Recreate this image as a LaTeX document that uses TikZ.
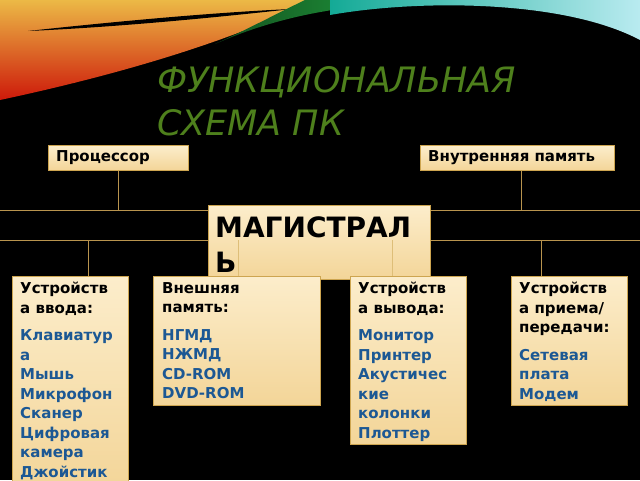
\documentclass[tikz,border=0pt]{standalone}
\usepackage{fontspec}
\setmainfont{DejaVu Sans}
\usetikzlibrary{calc}
\definecolor{boxtop}{RGB}{252,237,203}
\definecolor{boxbot}{RGB}{243,213,152}
\definecolor{boxline}{RGB}{205,165,80}
\definecolor{connc}{RGB}{185,148,78}
\definecolor{innerc}{RGB}{222,190,120}
\definecolor{itemblue}{RGB}{28,88,148}
\definecolor{titlegreen}{RGB}{78,128,28}
\definecolor{swred}{RGB}{205,25,10}
\definecolor{sworange}{RGB}{232,120,25}
\definecolor{swyellow}{RGB}{236,185,70}
\definecolor{swgreen}{RGB}{30,150,60}
\definecolor{swdkgreen}{RGB}{20,80,30}
\definecolor{swcyan}{RGB}{40,215,225}
\definecolor{swteal}{RGB}{20,170,150}
\definecolor{swpale}{RGB}{185,235,240}
\newcommand{\itm}[1]{\textcolor{itemblue}{#1}}
\begin{document}
\begin{tikzpicture}[x=1pt,y=-1pt,
  boxshape/.style={draw=boxline, line width=1pt, top color=boxtop, bottom color=boxbot,
    anchor=north west, inner sep=0pt},
  boxtext/.style={anchor=north west, inner sep=0pt, align=left,
    font=\fontsize{15}{19.5}\selectfont\bfseries},
  conn/.style={draw=connc, line width=0.8pt},
  innerconn/.style={draw=innerc, line width=0.8pt}]
% background
\fill[black] (0,0) rectangle (640,480);
\useasboundingbox (0,0) rectangle (640,480);
% swoosh: red / orange / yellow
\shade[top color=swyellow, middle color=sworange, bottom color=swred]
  (0,0) -- (315,0) .. controls (250,32) and (150,68) .. (0,100) -- cycle;
\fill[black] (28,31) .. controls (120,21) and (220,12) .. (292,9)
  .. controls (220,17) and (120,27) .. (28,31) -- cycle;
% green swoosh
\shade[left color=swdkgreen, right color=swgreen]
  (215,44) .. controls (265,22) and (320,8) .. (390,4) -- (390,0) -- (305,0)
  .. controls (280,12) and (250,28) .. (215,44) -- cycle;
% cyan swoosh
\shade[left color=swteal, middle color=swcyan, right color=swpale]
  (330,15) .. controls (420,-1) and (565,0) .. (640,40) -- (640,0) -- (330,0) -- cycle;
% title
\node[anchor=north west, inner sep=0pt, align=left, text=titlegreen,
  font=\fontsize{35}{43}\selectfont\itshape] (title) at (157,66)
  {ФУНКЦИОНАЛЬНАЯ\\СХЕМА ПК};
% bus lines
\coordinate (l1w) at (0,210);   \coordinate (l1e) at (640,210);
\coordinate (l2w) at (0,240);   \coordinate (l2e) at (640,240);
\draw[conn] (l1w) -- (l1e);
\draw[conn] (l2w) -- (l2e);
% top boxes
\node[boxshape, minimum width=140pt, minimum height=25pt] (proc) at (48,145) {};
\node[boxtext, anchor=west] (proct) at ($(proc.west)+(8,0)$) {Процессор};
\node[boxshape, minimum width=194pt, minimum height=25pt] (mem) at (420,145) {};
\node[boxtext, anchor=west] (memt) at ($(mem.west)+(8,0)$) {Внутренняя память};
\coordinate (mx) at (521,210);
\draw[conn] (proc.south) -- (proc.south |- l1w);
\draw[conn] (mx) -- (mx |- mem.south);
% bus box
\node[boxshape, minimum width=222pt, minimum height=74pt] (bus) at (208,205) {};
\node[anchor=north west, inner sep=0pt, align=left,
  font=\fontsize{28}{35}\selectfont\bfseries] (bust) at ($(bus.north west)+(7,12)$)
  {МАГИСТРАЛ\\Ь};
% drops from bus
\coordinate (b1) at (88,240);
\coordinate (b2) at (238,240);
\coordinate (b3) at (392,240);
\coordinate (b4) at (541,240);
% bottom boxes geometry
\path (12,276) coordinate (inpnw) (153,276) coordinate (extnw)
      (350,276) coordinate (outnw) (511,276) coordinate (netnw);
\draw[conn] (b1) -- (b1 |- inpnw);
\draw[innerconn] (b2) -- (b2 |- extnw);
\draw[innerconn] (b3) -- (b3 |- outnw);
\draw[conn] (b4) -- (b4 |- netnw);
\node[boxshape, minimum width=116pt, minimum height=214pt] (inp) at (inpnw) {};
\node[boxshape, minimum width=167pt, minimum height=129pt] (ext) at (extnw) {};
\node[boxshape, minimum width=116pt, minimum height=168pt] (out) at (outnw) {};
\node[boxshape, minimum width=116pt, minimum height=129pt] (net) at (netnw) {};
\node[boxtext] (inpt) at ($(inp.north west)+(8,6)$)
  {Устройств\\а ввода:\\[8pt]\itm{Клавиатур}\\\itm{а}\\\itm{Мышь}\\\itm{Микрофон}\\\itm{Сканер}\\\itm{Цифровая}\\\itm{камера}\\\itm{Джойстик}};
\node[boxtext] (extt) at ($(ext.north west)+(9,6)$)
  {Внешняя\\память:\\[8pt]\itm{НГМД}\\\itm{НЖМД}\\\itm{CD-ROM}\\\itm{DVD-ROM}};
\node[boxtext] (outt) at ($(out.north west)+(8,6)$)
  {Устройств\\а вывода:\\[8pt]\itm{Монитор}\\\itm{Принтер}\\\itm{Акустичес}\\\itm{кие}\\\itm{колонки}\\\itm{Плоттер}};
\node[boxtext] (nett) at ($(net.north west)+(8,6)$)
  {Устройств\\а приема/\\передачи:\\[8pt]\itm{Сетевая}\\\itm{плата}\\\itm{Модем}};
\end{tikzpicture}
\end{document}
